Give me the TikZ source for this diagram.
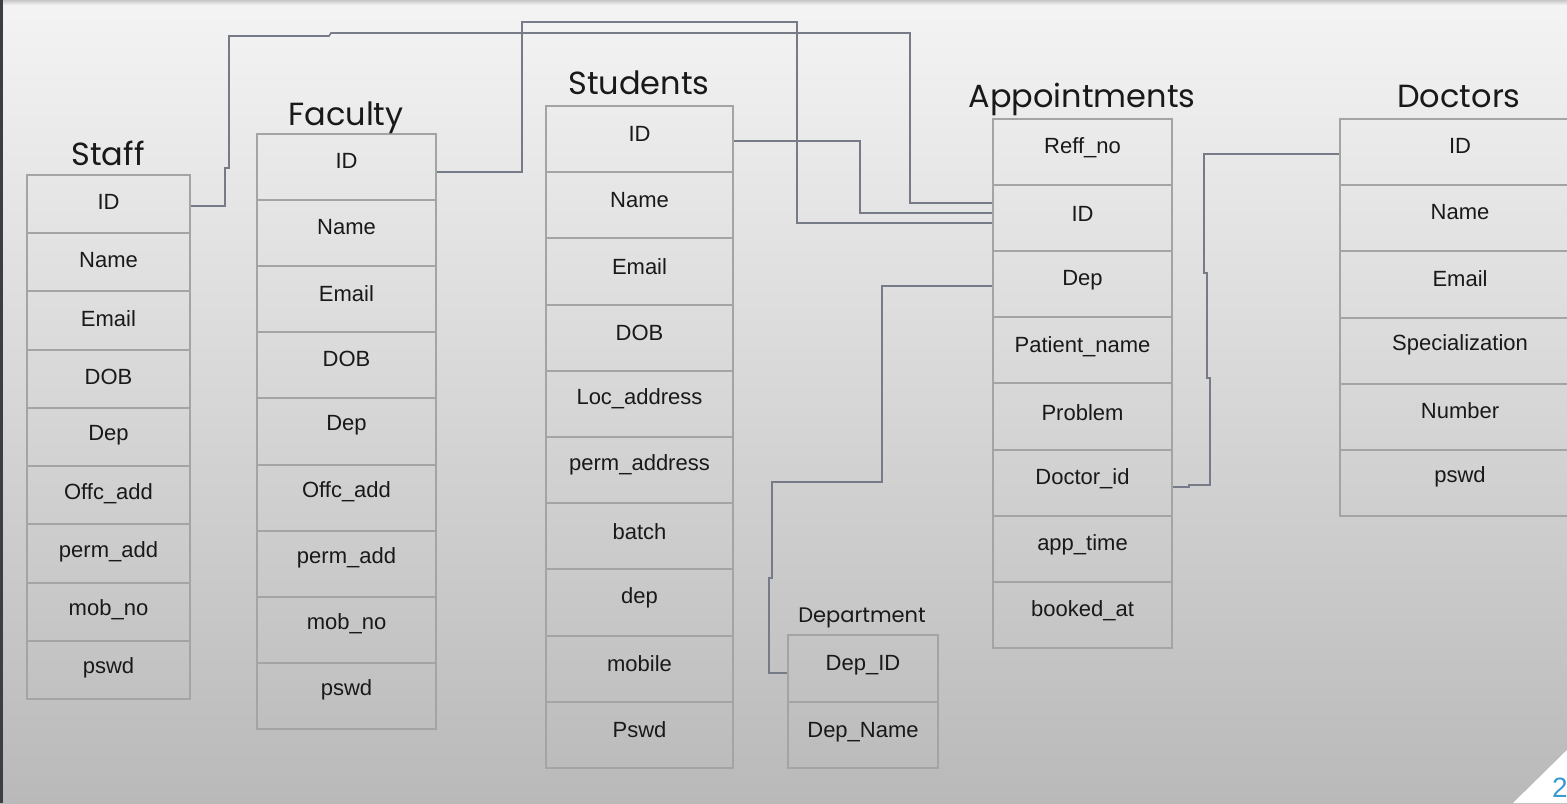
\documentclass[tikz,border=0pt]{standalone}
\usepackage{fontspec}
\setmainfont{Liberation Sans}
\newfontfamily\titlefont{Poppins}
\definecolor{bgtop}{HTML}{F4F4F4}
\definecolor{bgbot}{HTML}{B9B9B9}
\definecolor{cellline}{HTML}{A4A4A4}
\definecolor{connline}{HTML}{767B87}
\definecolor{pagenum}{HTML}{3D9AD1}
\definecolor{edgedark}{HTML}{3B3E43}
\tikzset{
  cell/.style={draw=cellline, line width=1pt, inner sep=0pt},
  celltext/.style={inner sep=0pt, text=black!90, font=\fontsize{11}{13}\selectfont},
  conn/.style={draw=connline, line width=0.8pt},
  tabtitle/.style={anchor=base, text=black!90, font=\titlefont\fontsize{16}{18}\selectfont},
}
% name, x-left, x-right, y-top, row height, text raise, labels
\newcommand\ertable[7]{%
  \foreach \lab [count=\i] in {#7}{%
    \node[cell, minimum width={(#3-#2)*0.5pt}, minimum height={#5*0.5pt}, anchor=north west]
      (#1-\i) at (#2,{#4+(\i-1)*#5}) {};
    \node[celltext] (#1-\i-t) at ([yshift=#6]#1-\i.center) {\lab};
  }%
}
\begin{document}
\begin{tikzpicture}[x=0.5pt,y=-0.5pt]
\useasboundingbox (0,0) rectangle (1567,803);
\clip (0,0) rectangle (1567,803);
% background
\shade[top color=bgtop, bottom color=bgbot] (0,0) rectangle (1567,803);
\shade[top color=black!22, bottom color=bgtop] (0,0) rectangle (1567,5);
\fill[edgedark] (0,0) rectangle (3,803);
\fill[white] (1513,803) -- (1567,750) -- (1567,803) -- cycle;
\node[anchor=base, text=pagenum, font=\fontsize{14}{16}\selectfont] (pg) at (1560,797) {2};

% tables
\ertable{staff}{26}{189}{174}{58.22}{1pt}{ID,Name,Email,DOB,Dep,Offc\_add,perm\_add,mob\_no,pswd}
\ertable{fac}{256}{435}{133}{66.1}{3pt}{ID,Name,Email,DOB,Dep,Offc\_add,perm\_add,mob\_no,pswd}
\ertable{stu}{545}{732}{105}{66.2}{2.5pt}{ID,Name,Email,DOB,Loc\_address,perm\_address,batch,dep,mobile,Pswd}
\ertable{appt}{992}{1171}{118}{66.1}{2pt}{Reff\_no,ID,Dep,Patient\_name,Problem,Doctor\_id,app\_time,booked\_at}
\ertable{doc}{1339}{1579}{118}{66.2}{3pt}{ID,Name,Email,Specialization,Number,pswd}
\ertable{dept}{787}{937}{634}{66.5}{1.5pt}{Dep\_ID,Dep\_Name}

% titles
\node[tabtitle] (tstaff) at (108,165) {Staff};
\node[tabtitle] (tfac) at (346,125) {Faculty};
\node[tabtitle] (tstu) at (639,94) {Students};
\node[tabtitle] (tappt) at (1082,107) {Appointments};
\node[tabtitle] (tdoc) at (1459,107) {Doctors};
\node[tabtitle, font=\titlefont\fontsize{10.5}{12}\selectfont] (tdept) at (862,622) {Department};

% connectors
\draw[conn] (staff-1.east |- 0,206) -- (225,206) -- (225,168) -- (229,168) -- (229,36) -- (329,36) -- (331,33) -- (910,33) -- (910,203) -- (appt-2.west |- 0,203);
\draw[conn] (fac-1.east |- 0,172) -- (522,172) -- (522,22) -- (797,22) -- (797,223) -- (appt-2.west |- 0,223);
\draw[conn] (stu-1.east |- 0,141) -- (860,141) -- (860,213) -- (appt-2.west |- 0,213);
\draw[conn] (appt-3.west |- 0,286) -- (882,286) -- (882,482) -- (772,482) -- (772,578) -- (769,578) -- (769,673) -- (dept-1.west |- 0,673);
\draw[conn] (appt-6.east |- 0,487) -- (1189,487) -- (1189,485) -- (1210,485) -- (1210,378) -- (1207,378) -- (1207,273) -- (1204,273) -- (1204,154) -- (doc-1.west |- 0,154);
\end{tikzpicture}
\end{document}
